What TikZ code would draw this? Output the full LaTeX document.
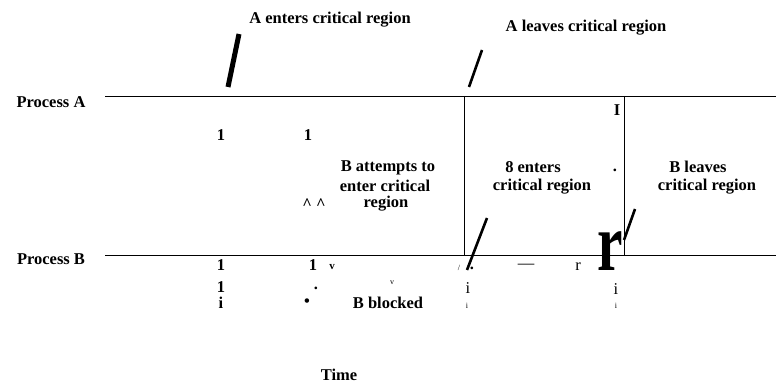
\documentclass[tikz,border=0pt]{standalone}
\usepackage{fontspec}
\setmainfont{Liberation Serif}
\begin{document}
\begin{tikzpicture}[x=1pt,y=-1pt,
  lbl/.style={font=\bfseries\fontsize{16.5}{18}\selectfont, align=center, inner sep=0pt},
  reg/.style={font=\fontsize{16.5}{18}\selectfont, inner sep=0pt},
  tiny/.style={font=\fontsize{8}{9}\selectfont, inner sep=0pt},
  tinyb/.style={font=\bfseries\fontsize{11}{12}\selectfont, inner sep=0pt},
  axis/.style={line width=0.9pt},
  mark line/.style={line width=0.7pt},
  slashthick/.style={line width=5pt},
  slashmid/.style={line width=2.6pt}]
\useasboundingbox (0,0) rectangle (776,387);
% axes
\coordinate (a0) at (105,96);
\coordinate (a1) at (776,96);
\coordinate (b0) at (105,255);
\coordinate (b1) at (776,255);
\coordinate (v1t) at (464,96);
\coordinate (v1b) at (464,255);
\coordinate (v2t) at (624,96);
\coordinate (v2b) at (624,255);
\draw[axis] (a0) -- (a1);
\draw[axis] (b0) -- (b1);
\draw[mark line] (v1t) -- (v1b);
\draw[mark line] (v2t) -- (v2b);
% slashes
\coordinate (s1a) at (228,87);  \coordinate (s1b) at (239,34);
\coordinate (s2a) at (469,87);  \coordinate (s2b) at (482,50);
\coordinate (s3a) at (467,270); \coordinate (s3b) at (487,218);
\coordinate (s4a) at (624,240); \coordinate (s4b) at (635,209);
\draw[slashthick] (s1a) -- (s1b);
\draw[slashmid] (s2a) -- (s2b);
\draw[slashmid] (s3a) -- (s3b);
\draw[slashmid] (s4a) -- (s4b);
% labels
\node[lbl] (pa) at (51,102) {Process A};
\node[lbl] (pb) at (51,259) {Process B};
\node[lbl] (aen) at (330,20) {A enters critical region};
\node[lbl] (alv) at (586,28) {A leaves critical region};
\node[lbl] (bat1) at (388,168) {B attempts to};
\node[lbl] (bat2) at (385,186) {enter critical};
\node[lbl] (bat3) at (386,204) {region};
\node[lbl] (ben1) at (533,167) {8 enters};
\node[lbl] (ben2) at (542,187) {critical region};
\node[lbl] (blv1) at (698,167) {B leaves};
\node[lbl] (blv2) at (707,187) {critical region};
\node[lbl] (bbl) at (388,303) {B blocked};
\node[lbl] (time) at (339,375) {Time};
% scattered marks
\node[lbl] (o1) at (221,135) {1};
\node[lbl] (o2) at (308,135) {1};
\node[lbl] (hat) at (314,204) {\^{} \^{}};
\node[lbl] (bigI) at (617,110) {I};
\node[lbl] (dot1) at (615,170) {.};
\node[lbl] (o3) at (221,265) {1};
\node[lbl] (o4) at (313,265) {1};
\node[tinyb] (v1) at (332,267) {v};
\node[tiny] (v2) at (392,283) {v};
\node[tiny] (sl) at (459,268) {/};
\node[lbl] (dot2) at (472,268) {.};
\node[reg] (dash) at (526,266) {—};
\node[reg] (rsm) at (578,267) {r};
\node[inner sep=0pt, anchor=base] (rbig) at (610,270) {\scalebox{0.7}[1]{\bfseries\fontsize{82}{82}\selectfont r}};
\node[lbl] (o5) at (221,287) {1};
\node[lbl] (dot3) at (316,288) {.};
\node[reg] (i1) at (468,288) {i};
\node[reg] (i2) at (616,289) {i};
\node[lbl] (i3) at (221,303) {i};
\node[lbl] (bul) at (307,303) {•};
\node[tiny] (i4) at (467,306) {i};
\node[tiny] (i5) at (616,306) {i};
\end{tikzpicture}
\end{document}
